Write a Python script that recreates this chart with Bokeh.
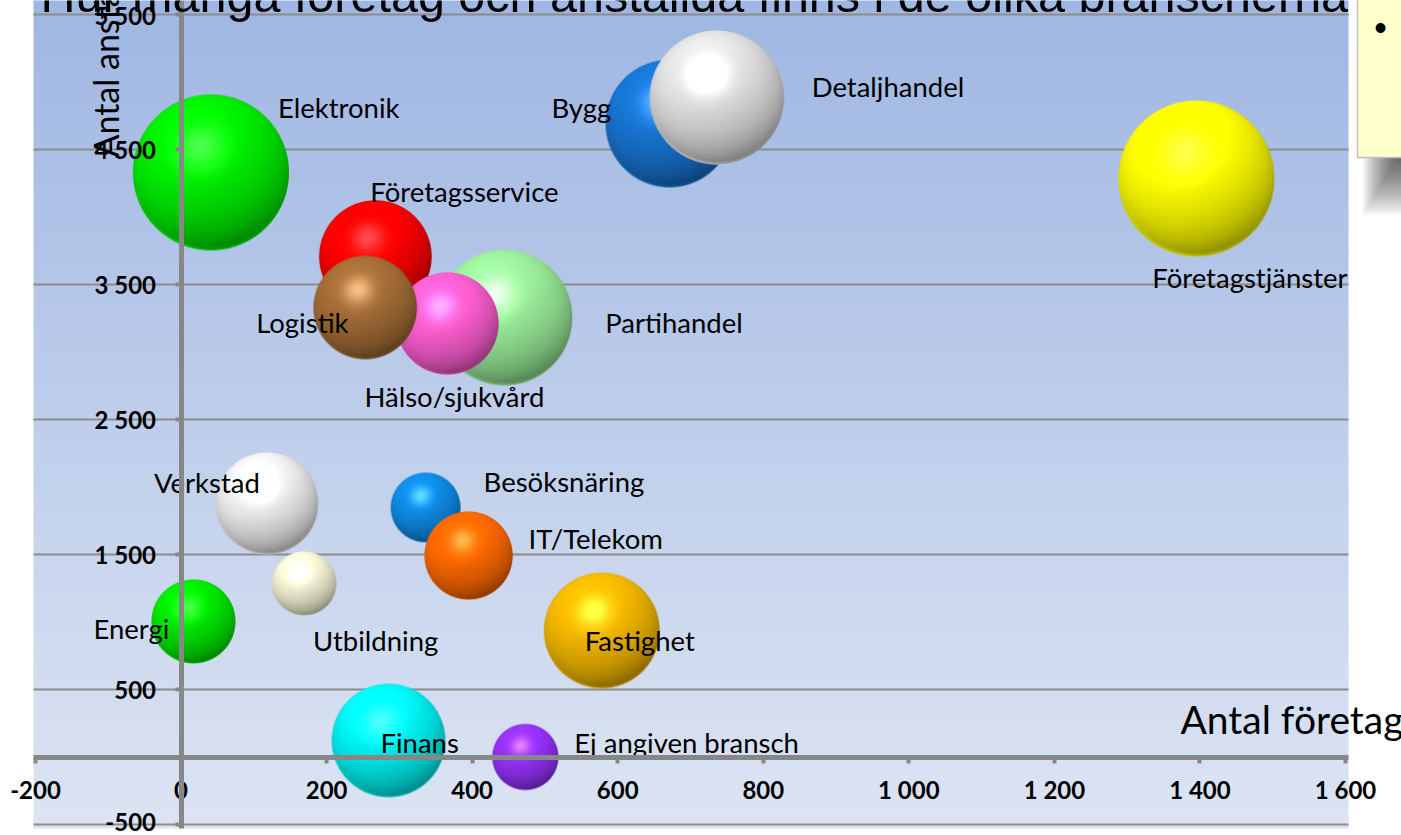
import numpy as np
from bokeh.plotting import figure
from bokeh.models import Range1d, FixedTicker, ColumnDataSource, Label
from bokeh.core.properties import value
from bokeh.embed import file_html
from bokeh.resources import INLINE

# ---------------- data ----------------
branscher = ["Bygg", "Detaljhandel", "Elektronik", "Företagstjänster", "Företagsservice",
             "Partihandel", "Hälso/sjukvård", "Logistik", "Verkstad", "Besöksnäring",
             "IT/Telekom", "Utbildning", "Energi", "Fastighet", "Finans", "Ej angiven bransch"]
antal_foretag = [671, 736, 41, 1395, 267, 444, 366, 253, 118, 336, 395, 169, 17, 578, 285, 473]
antal_anstallda = [4692, 4885, 4330, 4285, 3707, 3255, 3211, 3329, 1878, 1848, 1492, 1285, 1004, 937, 122, 0]
storlek = [67, 74, 100, 100, 52, 76, 43, 44, 43, 20, 32, 17, 29, 55, 53, 18]

x_ticks = [-200, 0, 200, 400, 600, 800, 1000, 1200, 1400, 1600]
x_tick_labels = ["-200", "0", "200", "400", "600", "800", "1 000", "1 200", "1 400", "1 600"]
y_ticks = [-500, 500, 1500, 2500, 3500, 4500, 5500]
y_tick_labels = ["-500", "500", "1 500", "2 500", "3 500", "4 500", "5 500"]

# ---------------- style ----------------
colors = [(24, 118, 212), (225, 225, 225), (0, 240, 0), (255, 255, 0), (255, 0, 0),
          (155, 238, 155), (255, 95, 210), (165, 110, 55), (240, 240, 240), (15, 140, 230),
          (255, 105, 0), (245, 245, 215), (0, 235, 0), (245, 185, 0), (0, 245, 245),
          (150, 50, 250)]
label_dx = [-118, 95, 67, -44, -5, 101, -83, -109, -113, 58, 60, 9, -100, -17, -8, 49]
label_dy = [-16, -11, -65, 99, -65, 5, 73, 15, -21, -26, -17, 57, 7, 10, 2, -15]
R_MAX = 78.0

W, H = 1401, 835
ux = 1800.0 / 1310.0
uy = 6000.0 / 810.0
X0 = -200 - 35 * ux
X1 = X0 + W * ux
Y1 = 5500 + 14 * uy
Y0 = Y1 - H * uy


def px2x(X):  # page pixel -> data
    return X0 + X * ux


def px2y(Y):
    return Y1 - Y * uy


PA_X0, PA_X1 = px2x(33), px2x(1348)
PA_Y0, PA_Y1 = px2y(828), px2y(-20)

p = figure(width=W, height=H, x_range=Range1d(X0, X1), y_range=Range1d(Y0, Y1),
           output_backend="svg", toolbar_location=None, min_border=0,
           background_fill_color="white", border_fill_color="white",
           outline_line_color=None)
p.xgrid.visible = False
p.ygrid.visible = False

# plot-area gradient
rows = 420
t = np.linspace(0, 1, rows)[:, None]  # 0 bottom -> 1 top
bot = np.array([221, 229, 243])
top = np.array([158, 182, 227])
cols = (bot * (1 - t) + top * t).astype(np.uint8)
grad = np.zeros((rows, 1, 4), dtype=np.uint8)
grad[:, 0, :3] = cols
grad[:, 0, 3] = 255
p.image_rgba(image=[grad.view(np.uint32).reshape(rows, 1)], x=PA_X0, y=PA_Y0,
             dw=PA_X1 - PA_X0, dh=PA_Y1 - PA_Y0, level="image")

# gridlines
p.segment(x0=[PA_X0] * len(y_ticks), x1=[PA_X1] * len(y_ticks), y0=y_ticks, y1=y_ticks,
          line_color="#8c8c8c", line_width=2, level="underlay")

# axes through the origin
for ax in (p.xaxis, p.yaxis):
    ax.fixed_location = 0
    ax.axis_line_color = "#878787"
    ax.axis_line_width = 5
    ax.major_tick_line_color = "#878787"
    ax.major_tick_line_width = 4
    ax.major_tick_out = 6
    ax.major_tick_in = 0
    ax.minor_tick_line_color = None
    ax.major_label_text_font = "Lato"
    ax.major_label_text_font_style = "bold"
    ax.major_label_text_font_size = "24px"
    ax.major_label_text_color = "black"
p.xaxis.ticker = FixedTicker(ticks=x_ticks)
p.xaxis.major_label_overrides = dict(zip(x_ticks, x_tick_labels))
p.xaxis.bounds = (PA_X0, PA_X1)
p.xaxis.major_label_standoff = 12
p.yaxis.ticker = FixedTicker(ticks=y_ticks)
p.yaxis.major_label_overrides = dict(zip(y_ticks, y_tick_labels))
p.yaxis.bounds = (PA_Y0, PA_Y1)
p.yaxis.major_label_standoff = 19


def sphere(color, R):
    n = int(np.ceil(2 * R + 2))
    c = (n - 1) / 2.0
    yy, xx = np.mgrid[0:n, 0:n].astype(float)
    X = (xx - c) / R
    Y = (yy - c) / R
    d = np.sqrt(X ** 2 + Y ** 2)
    Z = np.sqrt(np.clip(1 - d ** 2, 0, 1))
    L = np.array([-0.26, -0.63, 0.73]); L /= np.linalg.norm(L)
    Hh = L + np.array([0, 0, 1.0]); Hh /= np.linalg.norm(Hh)
    ndl = X * L[0] + Y * L[1] + Z * L[2]
    diff = np.clip((ndl + 0.6) / 1.6, 0, 1) ** 0.8
    spec = np.clip(X * Hh[0] + Y * Hh[1] + Z * Hh[2], 0, 1) ** 25
    base = np.array(color, dtype=float) / 255.0
    shade = 0.45 + 0.62 * diff
    rim = np.clip(Y, 0, 1) ** 2 * np.clip(1 - Z * 3, 0, 1)
    rgb = base[None, None, :] * (shade + 0.4 * rim)[..., None] + 0.30 * spec[..., None]
    rgb = np.clip(rgb, 0, 1)
    alpha = np.clip(R - d * R + 0.5, 0, 1)
    img = np.zeros((n, n, 4), dtype=np.uint8)
    img[..., :3] = (rgb * 255).astype(np.uint8)
    img[..., 3] = (alpha * 255).astype(np.uint8)
    img = img[::-1].copy()
    return img.view(np.uint32).reshape(n, n), n


vmax = max(storlek)
for i in range(len(branscher)):
    R = R_MAX * np.sqrt(storlek[i] / vmax)
    hexc = "#%02x%02x%02x" % colors[i]
    p.scatter(x=[antal_foretag[i]], y=[antal_anstallda[i]], size=2 * R - 2,
              marker="circle", fill_color=hexc, line_color=None)
    img, n = sphere(colors[i], R)
    p.image_rgba(image=[img], x=antal_foretag[i] - n * ux / 2, y=antal_anstallda[i] - n * uy / 2,
                 dw=n * ux, dh=n * uy)

src = ColumnDataSource(dict(x=antal_foretag, y=antal_anstallda, text=branscher,
                            dx=label_dx, dy=label_dy))
p.text(x="x", y="y", text="text", x_offset="dx", y_offset="dy", source=src,
       text_font=value("Lato"), text_font_size=value("27.5px"), text_color="black",
       text_baseline="middle", text_align="left")

# right-hand note box with shadow
for k in range(25):
    p.quad(left=px2x(1362 + 1.4 * k), right=px2x(1420), bottom=px2y(157 + 58 - 2.3 * k),
           top=px2y(157), fill_color="black", fill_alpha=0.03, line_color=None)
p.quad(left=px2x(1357), right=px2x(1420), bottom=px2y(157), top=px2y(-20),
       fill_color="#ffffcc", line_color="#bfbfbf", line_width=1.5)
p.text(x=[px2x(1380)], y=[px2y(27)], text=["•"], text_font=value("Liberation Sans"),
       text_font_size=value("36px"), text_align="center", text_baseline="middle",
       text_color="black")

# titles
p.add_layout(Label(x=px2x(40), y=px2y(-6), text="Hur många företag och anställda finns i de olika branscherna",
                   text_font="Liberation Sans", text_font_size="48.5px", text_color="black",
                   text_baseline="middle"))
p.add_layout(Label(x=px2x(105), y=px2y(157), angle=np.pi / 2, text="Antal anställda",
                   text_font="Lato", text_font_size="34px", text_color="black",
                   text_baseline="middle", text_align="left"))
p.add_layout(Label(x=px2x(1180), y=px2y(718), text="Antal företag",
                   text_font="Lato", text_font_size="39px", text_color="black",
                   text_baseline="middle", text_align="left"))

open("out.html", "w").write(file_html(p, INLINE))
